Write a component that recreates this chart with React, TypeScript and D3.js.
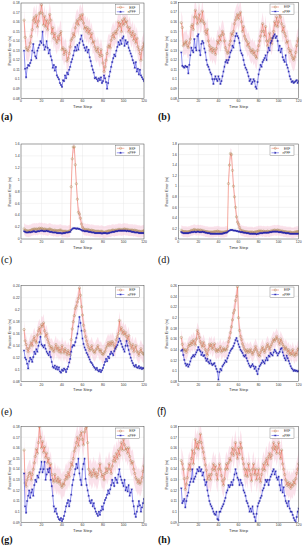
import React from 'react';
import * as d3 from 'd3';

const timeSteps = d3.range(3, 121);
const xTicks = [0, 20, 40, 60, 80, 100, 120];
const seriesNames = ['EKF', 'nPFF'];

const ekfA = [
  0.162, 0.144, 0.133, 0.131, 0.130, 0.134, 0.138, 0.145, 0.152, 0.162,
  0.165, 0.159, 0.167, 0.155, 0.161, 0.169, 0.170, 0.178, 0.169, 0.157,
  0.166, 0.155, 0.162, 0.152, 0.159, 0.168, 0.162, 0.148, 0.154, 0.143,
  0.148, 0.141, 0.138, 0.145, 0.141, 0.147, 0.150, 0.131, 0.133, 0.126,
  0.131, 0.129, 0.119, 0.122, 0.127, 0.134, 0.141, 0.143, 0.148, 0.145,
  0.154, 0.159, 0.162, 0.157, 0.164, 0.167, 0.162, 0.168, 0.159, 0.153,
  0.155, 0.150, 0.154, 0.148, 0.152, 0.143, 0.148, 0.138, 0.140, 0.134,
  0.131, 0.129, 0.133, 0.127, 0.124, 0.131, 0.125, 0.117, 0.108, 0.113,
  0.120, 0.127, 0.134, 0.136, 0.133, 0.141, 0.145, 0.148, 0.143, 0.150,
  0.148, 0.152, 0.160, 0.155, 0.159, 0.150, 0.162, 0.157, 0.164, 0.159,
  0.161, 0.155, 0.150, 0.154, 0.148, 0.145, 0.150, 0.141, 0.147, 0.138,
  0.143, 0.134, 0.131, 0.127, 0.120, 0.131, 0.134, 0.138,
];
const pffA = [
  0.130, 0.111, 0.102, 0.112, 0.115, 0.114, 0.117, 0.120, 0.130, 0.137,
  0.128, 0.124, 0.122, 0.130, 0.133, 0.136, 0.140, 0.138, 0.150, 0.136,
  0.131, 0.134, 0.140, 0.133, 0.127, 0.131, 0.124, 0.120, 0.112, 0.115,
  0.109, 0.113, 0.104, 0.102, 0.100, 0.096, 0.094, 0.092, 0.099, 0.098,
  0.104, 0.101, 0.107, 0.105, 0.110, 0.113, 0.118, 0.121, 0.125, 0.130,
  0.134, 0.130, 0.136, 0.131, 0.138, 0.142, 0.146, 0.140, 0.136, 0.133,
  0.130, 0.134, 0.128, 0.131, 0.123, 0.119, 0.114, 0.110, 0.107, 0.101,
  0.102, 0.100, 0.098, 0.101, 0.099, 0.102, 0.096, 0.098, 0.104, 0.101,
  0.097, 0.090, 0.096, 0.103, 0.108, 0.113, 0.118, 0.122, 0.126, 0.124,
  0.130, 0.134, 0.139, 0.136, 0.141, 0.137, 0.143, 0.145, 0.135, 0.141,
  0.137, 0.139, 0.133, 0.130, 0.127, 0.124, 0.120, 0.117, 0.112, 0.118,
  0.108, 0.111, 0.105, 0.110, 0.104, 0.102, 0.100, 0.098,
];

const ekfB = [
  0.159, 0.154, 0.135, 0.138, 0.137, 0.140, 0.135, 0.133, 0.138, 0.142,
  0.155, 0.157, 0.152, 0.165, 0.172, 0.165, 0.158, 0.163, 0.168, 0.160,
  0.162, 0.171, 0.160, 0.158, 0.150, 0.147, 0.152, 0.140, 0.135, 0.130,
  0.133, 0.128, 0.132, 0.130, 0.126, 0.132, 0.140, 0.137, 0.145, 0.140,
  0.146, 0.150, 0.147, 0.140, 0.133, 0.130, 0.127, 0.128, 0.136, 0.140,
  0.148, 0.146, 0.150, 0.158, 0.162, 0.165, 0.168, 0.163, 0.167, 0.170,
  0.160, 0.150, 0.155, 0.145, 0.142, 0.140, 0.135, 0.138, 0.133, 0.130,
  0.128, 0.131, 0.126, 0.129, 0.124, 0.122, 0.130, 0.135, 0.140, 0.145,
  0.150, 0.158, 0.150, 0.145, 0.155, 0.140, 0.135, 0.140, 0.148, 0.142,
  0.137, 0.143, 0.150, 0.160, 0.156, 0.165, 0.155, 0.160, 0.168, 0.165,
  0.158, 0.150, 0.155, 0.148, 0.145, 0.138, 0.140, 0.132, 0.128, 0.130,
  0.125, 0.122, 0.120, 0.123, 0.128, 0.135, 0.140, 0.143,
];
const pffB = [
  0.128, 0.114, 0.113, 0.112, 0.114, 0.113, 0.113, 0.106, 0.115, 0.125,
  0.133, 0.130, 0.128, 0.142, 0.133, 0.130, 0.145, 0.147, 0.130, 0.125,
  0.137, 0.140, 0.138, 0.132, 0.128, 0.120, 0.115, 0.113, 0.110, 0.107,
  0.105, 0.100, 0.095, 0.100, 0.103, 0.100, 0.098, 0.103, 0.100, 0.095,
  0.098, 0.103, 0.108, 0.113, 0.118, 0.120, 0.117, 0.120, 0.123, 0.128,
  0.130, 0.135, 0.133, 0.140, 0.145, 0.148, 0.145, 0.143, 0.138, 0.130,
  0.127, 0.125, 0.120, 0.115, 0.112, 0.110, 0.107, 0.103, 0.098, 0.100,
  0.095, 0.097, 0.100, 0.098, 0.092, 0.090, 0.097, 0.105, 0.110, 0.115,
  0.113, 0.118, 0.120, 0.122, 0.125, 0.120, 0.128, 0.133, 0.130, 0.138,
  0.140, 0.143, 0.145, 0.147, 0.143, 0.145, 0.140, 0.130, 0.135, 0.128,
  0.132, 0.123, 0.120, 0.118, 0.125, 0.115, 0.112, 0.108, 0.103, 0.100,
  0.097, 0.098, 0.096, 0.097, 0.098, 0.099, 0.096, 0.098,
];

const ekfC = [
  0.17, 0.15, 0.14, 0.14, 0.13, 0.14, 0.14, 0.15, 0.16, 0.16,
  0.17, 0.16, 0.17, 0.16, 0.17, 0.18, 0.17, 0.18, 0.17, 0.16,
  0.17, 0.16, 0.16, 0.15, 0.16, 0.17, 0.16, 0.15, 0.15, 0.14,
  0.15, 0.14, 0.14, 0.14, 0.14, 0.15, 0.15, 0.13, 0.13, 0.13,
  0.13, 0.13, 0.12, 0.13, 0.13, 0.14, 0.88, 1.35, 1.55, 1.55,
  1.25, 0.93, 0.67, 0.45, 0.42, 0.35, 0.25, 0.20, 0.17, 0.16,
  0.16, 0.15, 0.16, 0.15, 0.15, 0.14, 0.15, 0.14, 0.14, 0.13,
  0.13, 0.13, 0.13, 0.13, 0.12, 0.13, 0.13, 0.12, 0.11, 0.12,
  0.12, 0.13, 0.13, 0.14, 0.13, 0.14, 0.15, 0.15, 0.14, 0.15,
  0.15, 0.15, 0.16, 0.16, 0.16, 0.15, 0.16, 0.16, 0.17, 0.16,
  0.16, 0.16, 0.15, 0.15, 0.15, 0.15, 0.15, 0.14, 0.15, 0.14,
  0.14, 0.13, 0.13, 0.13, 0.12, 0.13, 0.13, 0.14,
];
const pffC = [
  0.13, 0.12, 0.11, 0.11, 0.11, 0.12, 0.11, 0.12, 0.12, 0.13,
  0.13, 0.12, 0.12, 0.13, 0.13, 0.13, 0.14, 0.14, 0.14, 0.13,
  0.13, 0.13, 0.14, 0.13, 0.13, 0.12, 0.12, 0.12, 0.11, 0.11,
  0.11, 0.11, 0.10, 0.10, 0.10, 0.10, 0.10, 0.09, 0.10, 0.10,
  0.10, 0.11, 0.11, 0.11, 0.12, 0.12, 0.15, 0.17, 0.18, 0.18,
  0.18, 0.17, 0.18, 0.17, 0.17, 0.16, 0.15, 0.14, 0.14, 0.13,
  0.13, 0.13, 0.13, 0.12, 0.12, 0.12, 0.11, 0.11, 0.11, 0.10,
  0.10, 0.10, 0.10, 0.10, 0.10, 0.10, 0.09, 0.10, 0.10, 0.10,
  0.10, 0.09, 0.10, 0.10, 0.11, 0.11, 0.12, 0.12, 0.12, 0.13,
  0.13, 0.13, 0.14, 0.14, 0.14, 0.14, 0.14, 0.14, 0.14, 0.14,
  0.13, 0.14, 0.13, 0.13, 0.13, 0.12, 0.12, 0.12, 0.11, 0.11,
  0.11, 0.11, 0.10, 0.10, 0.10, 0.10, 0.10, 0.10,
];

const ekfD = [
  0.16, 0.15, 0.14, 0.14, 0.14, 0.14, 0.13, 0.14, 0.14, 0.15,
  0.16, 0.16, 0.17, 0.18, 0.17, 0.16, 0.17, 0.17, 0.16, 0.17,
  0.16, 0.16, 0.15, 0.15, 0.14, 0.14, 0.14, 0.13, 0.13, 0.13,
  0.13, 0.13, 0.13, 0.14, 0.14, 0.14, 0.15, 0.14, 0.14, 0.13,
  0.13, 0.13, 0.13, 0.13, 0.14, 0.14, 0.15, 1.05, 1.40, 1.62,
  1.60, 1.30, 1.00, 0.80, 0.60, 0.42, 0.32, 0.28, 0.22, 0.17,
  0.16, 0.15, 0.15, 0.14, 0.14, 0.14, 0.13, 0.13, 0.13, 0.13,
  0.13, 0.13, 0.12, 0.13, 0.13, 0.14, 0.14, 0.15, 0.15, 0.15,
  0.15, 0.14, 0.15, 0.14, 0.14, 0.14, 0.15, 0.14, 0.14, 0.15,
  0.15, 0.16, 0.16, 0.17, 0.16, 0.16, 0.17, 0.16, 0.16, 0.15,
  0.15, 0.15, 0.14, 0.14, 0.14, 0.13, 0.13, 0.13, 0.13, 0.13,
  0.12, 0.12, 0.12, 0.13, 0.13, 0.14, 0.14, 0.14,
];
const pffD = [
  0.13, 0.12, 0.11, 0.11, 0.11, 0.11, 0.11, 0.11, 0.12, 0.12,
  0.13, 0.13, 0.13, 0.14, 0.13, 0.13, 0.14, 0.14, 0.13, 0.13,
  0.13, 0.14, 0.13, 0.13, 0.12, 0.12, 0.11, 0.11, 0.11, 0.10,
  0.10, 0.10, 0.10, 0.10, 0.10, 0.10, 0.10, 0.10, 0.10, 0.10,
  0.10, 0.10, 0.11, 0.11, 0.12, 0.12, 0.13, 0.15, 0.16, 0.17,
  0.17, 0.17, 0.16, 0.16, 0.16, 0.15, 0.15, 0.14, 0.14, 0.13,
  0.13, 0.13, 0.12, 0.12, 0.12, 0.11, 0.11, 0.11, 0.10, 0.10,
  0.10, 0.10, 0.10, 0.10, 0.10, 0.09, 0.10, 0.10, 0.11, 0.11,
  0.11, 0.11, 0.12, 0.12, 0.12, 0.12, 0.12, 0.12, 0.13, 0.13,
  0.13, 0.14, 0.14, 0.14, 0.14, 0.14, 0.14, 0.13, 0.13, 0.13,
  0.13, 0.12, 0.12, 0.12, 0.11, 0.11, 0.11, 0.11, 0.10, 0.10,
  0.10, 0.10, 0.10, 0.10, 0.10, 0.10, 0.10, 0.10,
];

const ekfE = [
  0.167, 0.148, 0.142, 0.135, 0.130, 0.136, 0.141, 0.146, 0.140, 0.150,
  0.155, 0.148, 0.145, 0.158, 0.165, 0.170, 0.160, 0.175, 0.172, 0.178,
  0.165, 0.155, 0.160, 0.150, 0.145, 0.140, 0.135, 0.138, 0.133, 0.130,
  0.136, 0.142, 0.133, 0.138, 0.130, 0.135, 0.128, 0.140, 0.133, 0.128,
  0.135, 0.130, 0.125, 0.132, 0.127, 0.124, 0.150, 0.168, 0.180, 0.190,
  0.202, 0.206, 0.213, 0.219, 0.236, 0.224, 0.205, 0.191, 0.174, 0.165,
  0.155, 0.148, 0.142, 0.137, 0.132, 0.135, 0.140, 0.133, 0.130, 0.128,
  0.133, 0.136, 0.140, 0.134, 0.130, 0.133, 0.127, 0.125, 0.128, 0.131,
  0.136, 0.140, 0.145, 0.140, 0.146, 0.141, 0.147, 0.144, 0.139, 0.135,
  0.150, 0.155, 0.160, 0.182, 0.165, 0.170, 0.160, 0.165, 0.158, 0.162,
  0.155, 0.150, 0.157, 0.145, 0.140, 0.135, 0.142, 0.130, 0.136, 0.140,
  0.131, 0.128, 0.124, 0.130, 0.135, 0.129, 0.127, 0.125,
];
const pffE = [
  0.132, 0.120, 0.117, 0.110, 0.102, 0.114, 0.120, 0.117, 0.113, 0.121,
  0.130, 0.126, 0.134, 0.130, 0.140, 0.146, 0.155, 0.142, 0.140, 0.137,
  0.141, 0.135, 0.130, 0.127, 0.124, 0.130, 0.121, 0.113, 0.105, 0.103,
  0.107, 0.101, 0.105, 0.100, 0.104, 0.097, 0.095, 0.100, 0.098, 0.102,
  0.100, 0.096, 0.101, 0.105, 0.112, 0.118, 0.130, 0.138, 0.141, 0.140,
  0.146, 0.153, 0.160, 0.172, 0.188, 0.178, 0.165, 0.152, 0.143, 0.137,
  0.133, 0.128, 0.125, 0.121, 0.117, 0.113, 0.111, 0.108, 0.105, 0.103,
  0.100, 0.103, 0.099, 0.097, 0.100, 0.096, 0.099, 0.103, 0.108, 0.113,
  0.118, 0.114, 0.122, 0.119, 0.126, 0.130, 0.127, 0.124, 0.131, 0.135,
  0.138, 0.141, 0.146, 0.152, 0.148, 0.143, 0.138, 0.134, 0.130, 0.140,
  0.148, 0.140, 0.133, 0.126, 0.120, 0.115, 0.111, 0.107, 0.105, 0.108,
  0.104, 0.103, 0.106, 0.102, 0.104, 0.101, 0.103, 0.102,
];

const ekfF = [
  0.163, 0.150, 0.141, 0.138, 0.140, 0.135, 0.140, 0.146, 0.151, 0.148,
  0.155, 0.150, 0.158, 0.154, 0.149, 0.160, 0.176, 0.170, 0.163, 0.155,
  0.150, 0.145, 0.154, 0.148, 0.140, 0.135, 0.130, 0.140, 0.150, 0.145,
  0.151, 0.141, 0.146, 0.151, 0.140, 0.136, 0.141, 0.137, 0.141, 0.146,
  0.136, 0.139, 0.143, 0.138, 0.141, 0.140, 0.146, 0.155, 0.162, 0.172,
  0.183, 0.196, 0.209, 0.214, 0.232, 0.240, 0.258, 0.200, 0.176, 0.165,
  0.159, 0.151, 0.146, 0.141, 0.138, 0.135, 0.140, 0.135, 0.137, 0.141,
  0.135, 0.131, 0.136, 0.140, 0.146, 0.140, 0.135, 0.130, 0.128, 0.135,
  0.140, 0.145, 0.139, 0.135, 0.141, 0.146, 0.151, 0.145, 0.140, 0.146,
  0.150, 0.155, 0.160, 0.156, 0.160, 0.165, 0.160, 0.155, 0.150, 0.160,
  0.155, 0.150, 0.146, 0.140, 0.145, 0.141, 0.135, 0.140, 0.131, 0.136,
  0.130, 0.140, 0.132, 0.128, 0.135, 0.131, 0.140, 0.143,
];
const pffF = [
  0.138, 0.140, 0.130, 0.121, 0.114, 0.110, 0.113, 0.108, 0.112, 0.118,
  0.124, 0.127, 0.130, 0.127, 0.131, 0.135, 0.139, 0.145, 0.140, 0.137,
  0.130, 0.135, 0.128, 0.130, 0.124, 0.119, 0.123, 0.117, 0.114, 0.120,
  0.114, 0.111, 0.113, 0.115, 0.109, 0.104, 0.099, 0.084, 0.098, 0.104,
  0.101, 0.109, 0.112, 0.115, 0.120, 0.117, 0.124, 0.129, 0.134, 0.138,
  0.141, 0.143, 0.147, 0.152, 0.158, 0.162, 0.156, 0.150, 0.145, 0.140,
  0.137, 0.134, 0.129, 0.127, 0.130, 0.124, 0.119, 0.114, 0.110, 0.107,
  0.110, 0.113, 0.109, 0.104, 0.108, 0.100, 0.094, 0.104, 0.109, 0.112,
  0.115, 0.120, 0.117, 0.114, 0.120, 0.125, 0.120, 0.129, 0.127, 0.134,
  0.131, 0.129, 0.135, 0.140, 0.137, 0.134, 0.129, 0.133, 0.136, 0.141,
  0.143, 0.135, 0.129, 0.124, 0.120, 0.129, 0.124, 0.119, 0.114, 0.109,
  0.105, 0.103, 0.100, 0.102, 0.100, 0.101, 0.099, 0.100,
];

const ekfG = [
  0.158, 0.127, 0.124, 0.130, 0.133, 0.136, 0.137, 0.130, 0.135, 0.140,
  0.146, 0.152, 0.159, 0.155, 0.165, 0.180, 0.170, 0.160, 0.166, 0.156,
  0.161, 0.151, 0.155, 0.146, 0.150, 0.140, 0.145, 0.135, 0.130, 0.128,
  0.135, 0.130, 0.128, 0.132, 0.127, 0.130, 0.125, 0.123, 0.127, 0.125,
  0.130, 0.134, 0.131, 0.137, 0.133, 0.140, 0.146, 0.143, 0.150, 0.157,
  0.160, 0.165, 0.170, 0.162, 0.168, 0.172, 0.175, 0.168, 0.163, 0.175,
  0.178, 0.180, 0.165, 0.140, 0.135, 0.138, 0.133, 0.136, 0.140, 0.134,
  0.137, 0.132, 0.135, 0.140, 0.145, 0.138, 0.133, 0.135, 0.130, 0.136,
  0.141, 0.137, 0.140, 0.145, 0.140, 0.136, 0.143, 0.148, 0.152, 0.147,
  0.155, 0.150, 0.158, 0.153, 0.160, 0.165, 0.158, 0.168, 0.163, 0.158,
  0.160, 0.155, 0.160, 0.152, 0.148, 0.145, 0.147, 0.140, 0.136, 0.132,
  0.130, 0.127, 0.130, 0.126, 0.128, 0.132, 0.138, 0.143,
];
const pffG = [
  0.136, 0.105, 0.099, 0.110, 0.115, 0.120, 0.113, 0.118, 0.121, 0.115,
  0.125, 0.130, 0.128, 0.134, 0.132, 0.137, 0.140, 0.147, 0.137, 0.140,
  0.147, 0.130, 0.135, 0.140, 0.137, 0.141, 0.130, 0.124, 0.115, 0.105,
  0.100, 0.103, 0.098, 0.095, 0.093, 0.092, 0.094, 0.091, 0.093, 0.096,
  0.100, 0.105, 0.108, 0.111, 0.105, 0.110, 0.116, 0.125, 0.130, 0.135,
  0.140, 0.145, 0.141, 0.150, 0.136, 0.130, 0.125, 0.140, 0.145, 0.150,
  0.131, 0.125, 0.120, 0.115, 0.110, 0.108, 0.111, 0.105, 0.108, 0.103,
  0.100, 0.098, 0.096, 0.100, 0.097, 0.101, 0.105, 0.102, 0.108, 0.111,
  0.113, 0.116, 0.120, 0.117, 0.121, 0.125, 0.130, 0.127, 0.124, 0.132,
  0.130, 0.127, 0.135, 0.140, 0.133, 0.130, 0.127, 0.124, 0.130, 0.120,
  0.123, 0.119, 0.125, 0.115, 0.118, 0.121, 0.110, 0.105, 0.098, 0.095,
  0.100, 0.105, 0.110, 0.106, 0.100, 0.104, 0.108, 0.112,
];

const ekfH = [
  0.148, 0.145, 0.140, 0.131, 0.121, 0.126, 0.132, 0.140, 0.145, 0.139,
  0.150, 0.158, 0.145, 0.155, 0.168, 0.160, 0.165, 0.159, 0.166, 0.173,
  0.165, 0.160, 0.156, 0.150, 0.144, 0.139, 0.130, 0.133, 0.135, 0.130,
  0.135, 0.140, 0.145, 0.139, 0.143, 0.135, 0.130, 0.140, 0.145, 0.140,
  0.134, 0.129, 0.125, 0.131, 0.140, 0.145, 0.140, 0.146, 0.150, 0.148,
  0.155, 0.160, 0.153, 0.158, 0.165, 0.155, 0.150, 0.160, 0.154, 0.165,
  0.160, 0.150, 0.145, 0.140, 0.134, 0.140, 0.133, 0.145, 0.139, 0.135,
  0.129, 0.140, 0.145, 0.135, 0.140, 0.130, 0.135, 0.140, 0.131, 0.128,
  0.135, 0.140, 0.145, 0.139, 0.147, 0.150, 0.144, 0.152, 0.155, 0.150,
  0.153, 0.160, 0.165, 0.158, 0.162, 0.155, 0.160, 0.165, 0.155, 0.150,
  0.158, 0.145, 0.140, 0.135, 0.130, 0.125, 0.128, 0.124, 0.127, 0.122,
  0.126, 0.124, 0.129, 0.126, 0.131, 0.136, 0.140, 0.145,
];
const pffH = [
  0.122, 0.108, 0.110, 0.112, 0.104, 0.110, 0.115, 0.118, 0.125, 0.128,
  0.131, 0.140, 0.128, 0.131, 0.133, 0.136, 0.140, 0.138, 0.142, 0.138,
  0.140, 0.134, 0.137, 0.130, 0.125, 0.128, 0.120, 0.115, 0.110, 0.107,
  0.105, 0.103, 0.100, 0.098, 0.097, 0.100, 0.093, 0.092, 0.100, 0.100,
  0.103, 0.105, 0.107, 0.110, 0.113, 0.118, 0.120, 0.125, 0.123, 0.125,
  0.128, 0.125, 0.130, 0.135, 0.140, 0.136, 0.132, 0.130, 0.125, 0.130,
  0.127, 0.125, 0.120, 0.118, 0.115, 0.110, 0.108, 0.105, 0.100, 0.103,
  0.100, 0.105, 0.098, 0.095, 0.091, 0.098, 0.105, 0.108, 0.110, 0.113,
  0.115, 0.120, 0.122, 0.125, 0.130, 0.128, 0.130, 0.125, 0.130, 0.133,
  0.135, 0.138, 0.140, 0.135, 0.138, 0.132, 0.130, 0.133, 0.125, 0.120,
  0.130, 0.118, 0.123, 0.115, 0.110, 0.108, 0.105, 0.110, 0.103, 0.100,
  0.100, 0.097, 0.094, 0.092, 0.090, 0.095, 0.100, 0.103,
];

const yTicksAB = [0.08, 0.09, 0.1, 0.11, 0.12, 0.13, 0.14, 0.15, 0.16, 0.17, 0.18];
const yTicksC = [0, 0.2, 0.4, 0.6, 0.8, 1, 1.2, 1.4, 1.6];
const yTicksD = [0, 0.2, 0.4, 0.6, 0.8, 1, 1.2, 1.4, 1.6, 1.8];
const yTicksE = [0.08, 0.1, 0.12, 0.14, 0.16, 0.18, 0.2, 0.22, 0.24];
const yTicksF = [0.08, 0.1, 0.12, 0.14, 0.16, 0.18, 0.2, 0.22, 0.24, 0.26];
const yTicksGH = [0.09, 0.1, 0.11, 0.12, 0.13, 0.14, 0.15, 0.16, 0.17, 0.18];

const panelLabels = ['(a)', '(b)', '(c)', '(d)', '(e)', '(f)', '(g)', '(h)'];

const panels = [
  { ekf: ekfA, pff: pffA, ticks: yTicksAB, x0: 21, x1: 144, y0: 3, y1: 98.3, band: 0.012, lx: 1, ly: 120, lf: 'serif', lw: 'bold' },
  { ekf: ekfB, pff: pffB, ticks: yTicksAB, x0: 178.3, x1: 298.7, y0: 2.7, y1: 98.3, band: 0.012, lx: 158, ly: 120, lf: 'serif', lw: 'bold' },
  { ekf: ekfC, pff: pffC, ticks: yTicksC, x0: 21, x1: 144, y0: 144, y1: 239, band: 0.1, lx: 1, ly: 263, lf: 'serif', lw: 'normal' },
  { ekf: ekfD, pff: pffD, ticks: yTicksD, x0: 178.3, x1: 298.7, y0: 144, y1: 239, band: 0.1, lx: 158, ly: 263, lf: 'serif', lw: 'normal' },
  { ekf: ekfE, pff: pffE, ticks: yTicksE, x0: 21, x1: 144, y0: 285.7, y1: 381.7, band: 0.015, lx: 1, ly: 415, lf: 'serif', lw: 'normal' },
  { ekf: ekfF, pff: pffF, ticks: yTicksF, x0: 178.3, x1: 298.7, y0: 285.7, y1: 381.7, band: 0.015, lx: 157, ly: 415, lf: 'Liberation Sans, sans-serif', lw: 'normal' },
  { ekf: ekfG, pff: pffG, ticks: yTicksGH, x0: 21, x1: 144, y0: 426.7, y1: 522.3, band: 0.012, lx: 1, ly: 543, lf: 'serif', lw: 'bold' },
  { ekf: ekfH, pff: pffH, ticks: yTicksGH, x0: 178.3, x1: 298.7, y0: 426.7, y1: 522.3, band: 0.012, lx: 158, ly: 543, lf: 'serif', lw: 'bold' },
];

const EKF_LINE = '#ee6b55';
const EKF_MARK = '#a8905c';
const PFF_LINE = '#3333e0';
const PFF_MARK = '#2222a8';
const BAND = '#f7bfd2';
const FONT = 'Liberation Sans, Arial, sans-serif';

const fmt = (v: number) => String(+v.toFixed(2));

function asterisk(x: number, y: number, s: number) {
  const d = s * 0.7;
  return `M${x - s},${y}L${x + s},${y}M${x},${y - s}L${x},${y + s}M${x - d},${y - d}L${x + d},${y + d}M${x - d},${y + d}L${x + d},${y - d}`;
}

function Panel({ p, label }: { p: any; label: string }) {
  const xs = d3.scaleLinear().domain([0, 120]).range([p.x0, p.x1]);
  const ys = d3.scaleLinear().domain([p.ticks[0], p.ticks[p.ticks.length - 1]]).range([p.y1, p.y0]);
  const line = d3.line<number>().x((_, i) => xs(timeSteps[i])).y((d) => ys(d));
  const area = d3
    .area<number>()
    .x((_, i) => xs(timeSteps[i]))
    .y0((d) => ys(Math.max(p.ticks[0], d - p.band)))
    .y1((d) => ys(d + p.band));
  const clipId = 'clip' + label.replace(/[()]/g, '');
  const lgW = 24;
  const lgH = 10.5;
  const lgX = p.x1 - 4.7 - lgW;
  const lgY = p.y0 + 1.3;
  return (
    <g>
      <defs>
        <clipPath id={clipId}>
          <rect x={p.x0} y={p.y0} width={p.x1 - p.x0} height={p.y1 - p.y0} />
        </clipPath>
      </defs>
      <rect x={p.x0} y={p.y0} width={p.x1 - p.x0} height={p.y1 - p.y0} fill="#fff" />
      {xTicks.map((t) => (
        <line key={'gx' + t} x1={xs(t)} x2={xs(t)} y1={p.y0} y2={p.y1} stroke="#e3e3e3" strokeWidth={0.4} />
      ))}
      {p.ticks.map((t: number) => (
        <line key={'gy' + t} x1={p.x0} x2={p.x1} y1={ys(t)} y2={ys(t)} stroke="#e3e3e3" strokeWidth={0.4} />
      ))}
      <g clipPath={`url(#${clipId})`}>
        <path d={area(p.ekf) || ''} fill={BAND} opacity={0.45} />
        <path d={line(p.ekf) || ''} fill="none" stroke={EKF_LINE} strokeWidth={0.55} />
        {p.ekf.map((v: number, i: number) => (
          <circle key={'e' + i} cx={xs(timeSteps[i])} cy={ys(v)} r={1.15} fill="none" stroke={EKF_MARK} strokeWidth={0.45} />
        ))}
        <path d={line(p.pff) || ''} fill="none" stroke={PFF_LINE} strokeWidth={0.55} />
        {p.pff.map((v: number, i: number) => (
          <path key={'p' + i} d={asterisk(xs(timeSteps[i]), ys(v), 1.05)} stroke={PFF_MARK} strokeWidth={0.45} fill="none" />
        ))}
      </g>
      <rect x={p.x0} y={p.y0} width={p.x1 - p.x0} height={p.y1 - p.y0} fill="none" stroke="#3a3a3a" strokeWidth={0.45} />
      {xTicks.map((t) => (
        <text key={'xl' + t} x={xs(t)} y={p.y1 + 4} fontSize={3.4} fontFamily={FONT} fill="#333" textAnchor="middle">
          {t}
        </text>
      ))}
      {p.ticks.map((t: number) => (
        <text key={'yl' + t} x={p.x0 - 1.3} y={ys(t) + 1.2} fontSize={3.4} fontFamily={FONT} fill="#333" textAnchor="end">
          {fmt(t)}
        </text>
      ))}
      <text x={(p.x0 + p.x1) / 2} y={p.y1 + 9.5} fontSize={4.2} fontFamily={FONT} fill="#333" textAnchor="middle">
        Time Step
      </text>
      <text
        transform={`translate(${p.x0 - 10.5},${(p.y0 + p.y1) / 2}) rotate(-90)`}
        fontSize={3.8}
        fontFamily={FONT}
        fill="#333"
        textAnchor="middle"
      >
        Position Error (m)
      </text>
      <g>
        <rect x={lgX} y={lgY} width={lgW} height={lgH} fill="#fff" stroke="#555" strokeWidth={0.35} />
        <line x1={lgX + 1.5} x2={lgX + 9} y1={lgY + 3} y2={lgY + 3} stroke={EKF_LINE} strokeWidth={0.5} />
        <circle cx={lgX + 5.25} cy={lgY + 3} r={1.1} fill="none" stroke={EKF_MARK} strokeWidth={0.45} />
        <text x={lgX + 14} y={lgY + 4.2} fontSize={3.2} fontFamily={FONT} fill="#333">
          {seriesNames[0]}
        </text>
        <line x1={lgX + 1.5} x2={lgX + 9} y1={lgY + 7.5} y2={lgY + 7.5} stroke={PFF_LINE} strokeWidth={0.5} />
        <path d={asterisk(lgX + 5.25, lgY + 7.5, 1.05)} stroke={PFF_MARK} strokeWidth={0.45} fill="none" />
        <text x={lgX + 12.5} y={lgY + 8.7} fontSize={3.2} fontFamily={FONT} fill="#333">
          {seriesNames[1]}
        </text>
      </g>
      <text x={p.lx} y={p.ly} fontSize={10} fontFamily={p.lf} fontWeight={p.lw} fill="#111">
        {label}
      </text>
    </g>
  );
}

export default function App() {
  return (
    <svg
      width={303}
      height={550}
      viewBox="0 0 303 550"
      style={{ position: 'absolute', left: 0, top: 0, background: '#fff', display: 'block' }}
    >
      <rect x={0} y={0} width={303} height={550} fill="#fff" />
      {panels.map((p, i) => (
        <Panel key={i} p={p} label={panelLabels[i]} />
      ))}
    </svg>
  );
}
